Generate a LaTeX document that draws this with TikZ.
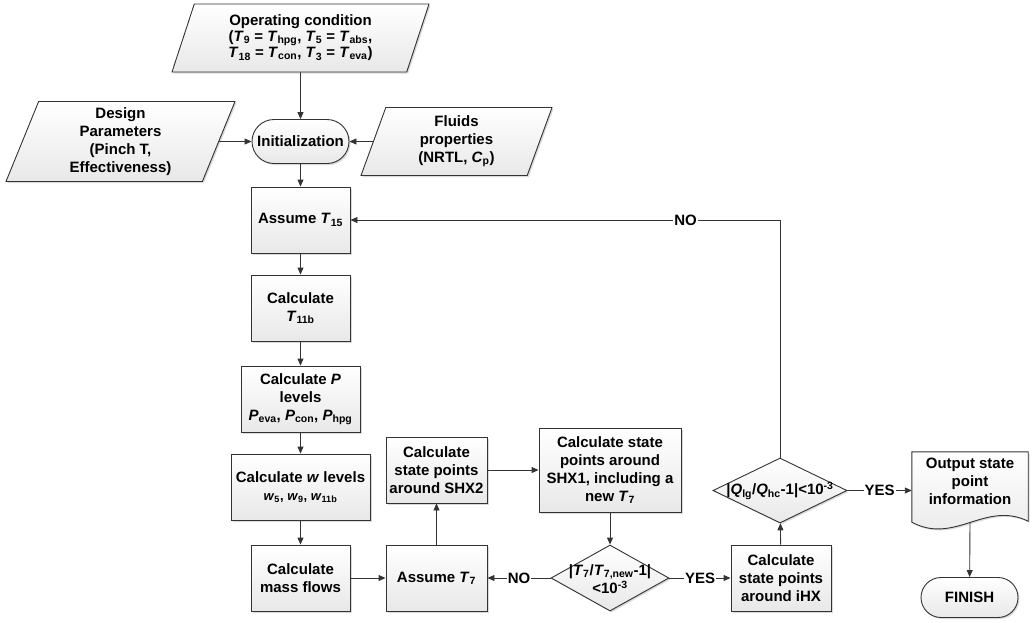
\documentclass[tikz,border=0pt]{standalone}
\usepackage{fontspec}
\setmainfont{Liberation Sans}
\usetikzlibrary{shapes.geometric,shapes.misc,shadows,arrows.meta,backgrounds}
\newcommand{\vv}[1]{\textit{#1}}
\newcommand{\sbs}[1]{\textsubscript{#1}}
\begin{document}
\begin{tikzpicture}[x=1pt,y=-1pt,
  font=\fontsize{15}{18}\selectfont\bfseries,
  line/.style={draw=black!80, line width=0.9pt},
  arr/.style={line, -{Triangle[length=7pt,width=6pt]}},
  boxfill/.style={top color=white, bottom color=black!9, draw=black!80, line width=0.9pt,
    drop shadow={shadow xshift=1.5pt, shadow yshift=-1.5pt, opacity=0.3}},
  proc/.style={boxfill, rectangle, align=center, inner sep=2pt, minimum height=66},
  io/.style={boxfill, trapezium, trapezium left angle=65, trapezium right angle=115,
    trapezium stretches body, align=center, inner sep=1pt},
  term/.style={boxfill, rounded rectangle, align=center, inner sep=2pt},
  dec/.style={boxfill, diamond, inner sep=0pt},
  dtext/.style={align=center, inner sep=0pt},
  lab/.style={fill=white, inner sep=1pt},
]
\useasboundingbox (0,0) rectangle (1033,622);

% inputs
\node[io, minimum width=257, minimum height=68, font=\fontsize{15}{13.5}\selectfont\bfseries] (op) at (300.5,38)
  {Operating condition\\(\vv{T}\sbs{9} = \vv{T}\sbs{hpg}, \vv{T}\sbs{5} = \vv{T}\sbs{abs},\\ \vv{T}\sbs{18} = \vv{T}\sbs{con}, \vv{T}\sbs{3} = \vv{T}\sbs{eva})};
\node[term, minimum width=101, minimum height=44] (init) at (300.5,141.5) {Initialization};
\node[io, minimum width=229, minimum height=80] (des) at (120.5,141.5) {Design\\Parameters\\(Pinch T,\\Effectiveness)};
\node[io, minimum width=191, minimum height=68] (flu) at (456.5,141.5) {Fluids\\properties\\(NRTL, \vv{C}\sbs{p})};

% main column
\node[proc, minimum width=99] (a15) at (300.5,220) {Assume \vv{T}\sbs{15}};
\node[proc, minimum width=99] (t11) at (300.5,308) {Calculate\\\vv{T}\sbs{11b}};
\node[proc, minimum width=119] (pl) at (300.5,399) {Calculate \vv{P}\\levels\\\vv{P}\sbs{eva}, \vv{P}\sbs{con}, \vv{P}\sbs{hpg}};
\node[proc, minimum width=139] (wl) at (300.5,487) {Calculate \vv{w} levels\\{\fontsize{13}{16}\selectfont\bfseries \vv{w}\sbs{5}, \vv{w}\sbs{9}, \vv{w}\sbs{11b}}};
\node[proc, minimum width=99] (mf) at (300.5,578) {Calculate\\mass flows};

% inner loop
\node[proc, minimum width=101] (a7) at (436.5,578) {Assume \vv{T}\sbs{7}};
\node[proc, minimum width=101] (shx2) at (436.5,470) {Calculate\\state points\\around SHX2};
\node[proc, minimum width=142, minimum height=84] (shx1) at (610,470) {Calculate state\\points around\\SHX1, including a\\new \vv{T}\sbs{7}};
\node[dec, minimum width=118, minimum height=66] (d1) at (610,578) {};
\node[dtext] (d1t) at (610,579) {|\vv{T}\sbs{7}/\vv{T}\sbs{7,new}-1|\\<10\textsuperscript{-3}};
\node[proc, minimum width=100] (ihx) at (781,578) {Calculate\\state points\\around iHX};
\node[dec, minimum width=134, minimum height=65] (d2) at (780,490.5) {};
\node[dtext] (d2t) at (780,490.5) {|\vv{Q}\sbs{lg}/\vv{Q}\sbs{hc}-1|<10\textsuperscript{-3}};

% output
\node[align=center, minimum width=116, minimum height=58, inner sep=0pt] (out) at (970,481) {Output state\\point\\information};
\begin{scope}[on background layer]
\path[boxfill] (out.north west) -- (out.north east) -- ([yshift=-11pt]out.south east)
  .. controls +(-43,-21) and +(43,23) .. ([yshift=-12pt]out.south west) -- cycle;
\end{scope}
\node[term, minimum width=101, minimum height=40] (fin) at (969.5,597.5) {FINISH};

% connectors
\draw[arr] (op.south) -- (init.north);
\draw[arr] (des.east) -- (init.west);
\draw[arr] (flu.west) -- (init.east);
\draw[arr] (init) -- (a15);
\draw[arr] (a15) -- (t11);
\draw[arr] (t11) -- (pl);
\draw[arr] (pl) -- (wl);
\draw[arr] (wl) -- (mf);
\draw[arr] (mf) -- (a7);
\draw[arr] (a7) -- (shx2);
\draw[arr] (shx2) -- (shx2 -| shx1.west);
\draw[arr] (shx1) -- (d1);
\draw[arr] (d1) -- node[lab]{NO} (a7);
\draw[arr] (d1) -- node[lab]{YES} (ihx);
\draw[arr] (ihx) -- (d2);
\draw[arr] (d2.east) -- node[lab]{YES} (d2.east -| out.west);
\draw[arr] ([yshift=-12pt]out.south) -- (fin);
\draw[arr] (d2.north) |- node[lab, pos=0.61]{NO} (a15.east);
\end{tikzpicture}
\end{document}
